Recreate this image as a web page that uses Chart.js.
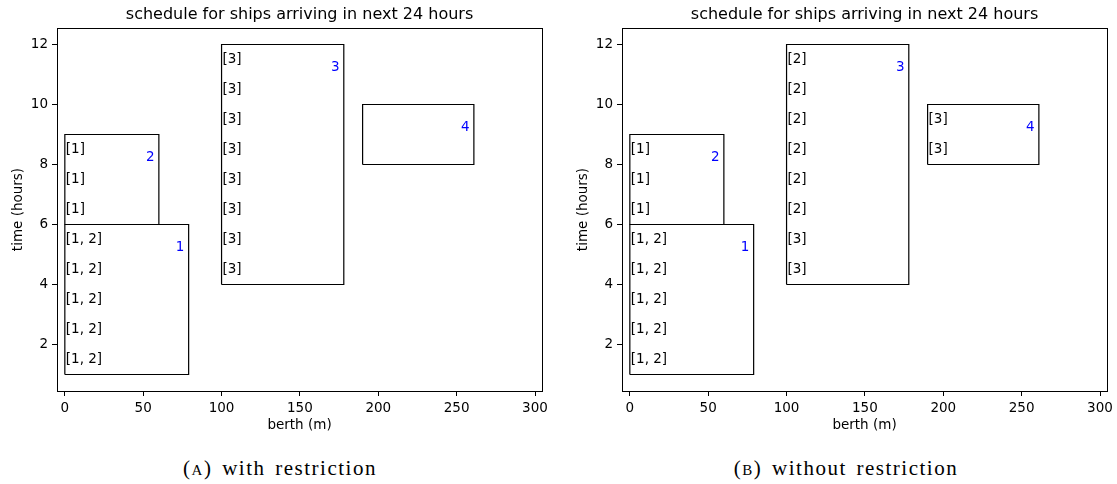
<!DOCTYPE html>
<html>
<head>
<meta charset="utf-8">
<script src="https://cdn.jsdelivr.net/npm/chart.js@4/dist/chart.umd.min.js"></script>
<style>
  body { margin: 0; background: #fff; width: 1117px; height: 484px; position: relative; overflow: hidden; }
  .painel { position: absolute; top: 0; }
  .legenda { position: absolute; top: 456px; width: 400px; text-align: center; font-family: "Liberation Serif", "DejaVu Serif", serif; font-size: 21px; letter-spacing: 1.5px; word-spacing: 3px; color: #000; }
</style>
</head>
<body>
<canvas id="graficoCom" class="painel" style="left:0px" width="552" height="440"></canvas>
<canvas id="graficoSem" class="painel" style="left:565px" width="552" height="440"></canvas>
<div class="legenda" style="left:80px">(<span style="font-variant:small-caps">a</span>) with restriction</div>
<div class="legenda" style="left:646px">(<span style="font-variant:small-caps">b</span>) without restriction</div>

<script>
// Dados dos navios (cais em metros, tempo em horas)
const berthTicks = [0, 50, 100, 150, 200, 250, 300];
const timeTicks = [2, 4, 6, 8, 10, 12];
const shipIds = ['1', '2', '3', '4'];
const berthStart = [0, 0, 100, 190];
const berthEnd = [79, 60, 178, 261];
const arrival = [1, 6, 4, 8];
const departure = [6, 9, 12, 10];

// etiquetas por hora, a partir da chegada de cada navio
const slotsWithRestriction = [
    ['[1, 2]', '[1, 2]', '[1, 2]', '[1, 2]', '[1, 2]'],
    ['[1]', '[1]', '[1]'],
    ['[3]', '[3]', '[3]', '[3]', '[3]', '[3]', '[3]', '[3]'],
    []
];
const slotsWithoutRestriction = [
    ['[1, 2]', '[1, 2]', '[1, 2]', '[1, 2]', '[1, 2]'],
    ['[1]', '[1]', '[1]'],
    ['[3]', '[3]', '[2]', '[2]', '[2]', '[2]', '[2]', '[2]'],
    ['[3]', '[3]']
];

const tituloGrafico = 'schedule for ships arriving in next 24 hours';
const fonteBase = '"DejaVu Sans", sans-serif';

function criarRetangulos() {
    return shipIds.map((id, i) => ({
        label: 'ship ' + id,
        data: [
            { x: berthStart[i], y: arrival[i] },
            { x: berthEnd[i], y: arrival[i] },
            { x: berthEnd[i], y: departure[i] },
            { x: berthStart[i], y: departure[i] },
            { x: berthStart[i], y: arrival[i] }
        ],
        showLine: true,
        borderColor: '#000',
        borderWidth: 1.2,
        borderJoinStyle: 'miter',
        pointRadius: 0,
        tension: 0,
        fill: false
    }));
}

// Plugin para moldura, título e textos dentro dos retângulos
const pluginTextos = {
    id: 'textos',
    afterDatasetsDraw(chart, args, opts) {
        const ctx = chart.ctx;
        const sx = chart.scales.x;
        const sy = chart.scales.y;
        const area = chart.chartArea;
        ctx.save();

        // moldura completa (4 lados)
        ctx.strokeStyle = '#000';
        ctx.lineWidth = 1;
        ctx.strokeRect(Math.round(area.left) + 0.5, Math.round(area.top) + 0.5,
            Math.round(area.right - area.left), Math.round(area.bottom - area.top));

        // título
        ctx.fillStyle = '#000';
        ctx.font = '16px ' + fonteBase;
        ctx.textAlign = 'center';
        ctx.textBaseline = 'middle';
        ctx.fillText(tituloGrafico, (area.left + area.right) / 2, 15);

        // etiquetas por hora
        ctx.font = '13.5px ' + fonteBase;
        ctx.textAlign = 'left';
        opts.slots.forEach((lista, i) => {
            lista.forEach((txt, h) => {
                ctx.fillText(txt, sx.getPixelForValue(berthStart[i] + 0.6), sy.getPixelForValue(arrival[i] + h + 0.5));
            });
        });

        // número do navio
        ctx.fillStyle = '#0000ff';
        ctx.textAlign = 'center';
        shipIds.forEach((id, i) => {
            ctx.fillText(id, sx.getPixelForValue(berthEnd[i] - 5.5), sy.getPixelForValue(departure[i] - 0.77));
        });
        ctx.restore();
    }
};

function criarGrafico(idCanvas, slots) {
    const fonteEixo = { family: fonteBase, size: 13.5 };
    new Chart(document.getElementById(idCanvas), {
        type: 'scatter',
        data: { datasets: criarRetangulos() },
        options: {
            responsive: false,
            animation: false,
            devicePixelRatio: 1,
            layout: { padding: { top: 28, right: 8, left: 0, bottom: 0 } },
            plugins: {
                legend: { display: false },
                tooltip: { enabled: false },
                textos: { slots: slots }
            },
            scales: {
                x: {
                    type: 'linear',
                    min: -5,
                    max: 304.5,
                    afterBuildTicks: s => { s.ticks = berthTicks.map(v => ({ value: v })); },
                    afterFit: s => { s.height = 49; },
                    ticks: { color: '#000', font: fonteEixo, padding: 4, maxRotation: 0, autoSkip: false },
                    grid: { drawOnChartArea: false, drawTicks: true, tickLength: 5, color: '#000' },
                    border: { display: false },
                    title: { display: true, text: 'berth (m)', color: '#000', font: fonteEixo, padding: { top: 0, bottom: 6 } }
                },
                y: {
                    type: 'linear',
                    min: 0.45,
                    max: 12.55,
                    afterBuildTicks: s => { s.ticks = timeTicks.map(v => ({ value: v })); },
                    afterFit: s => { s.width = 57; },
                    ticks: { color: '#000', font: fonteEixo, padding: 4, autoSkip: false },
                    grid: { drawOnChartArea: false, drawTicks: true, tickLength: 5, color: '#000' },
                    border: { display: false },
                    title: { display: true, text: 'time (hours)', color: '#000', font: fonteEixo, padding: { top: 10, bottom: 0 } }
                }
            }
        },
        plugins: [pluginTextos]
    });
}

criarGrafico('graficoCom', slotsWithRestriction);
criarGrafico('graficoSem', slotsWithoutRestriction);
</script>
</body>
</html>
